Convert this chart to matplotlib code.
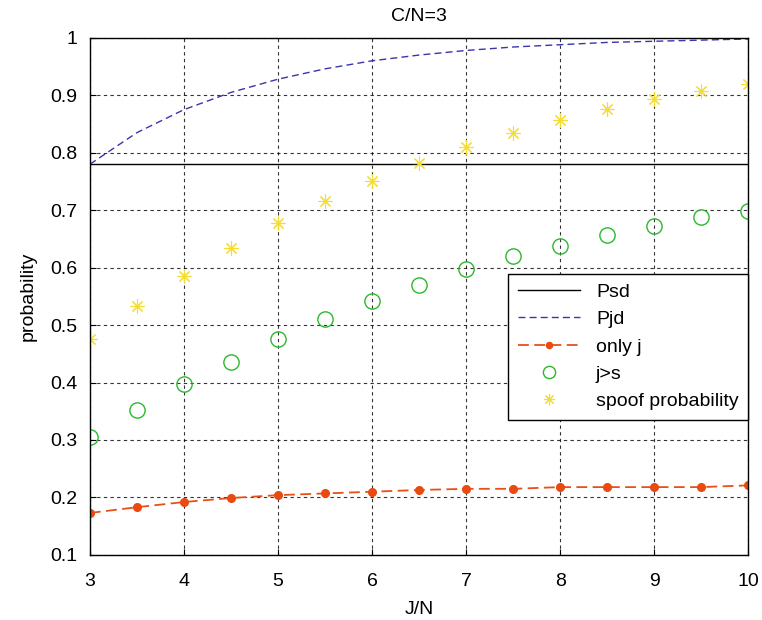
import numpy as np
import matplotlib
matplotlib.use("Agg")
import matplotlib.pyplot as plt

plt.rcParams['font.family'] = ['Liberation Sans', 'DejaVu Sans']

jn = [3, 3.5, 4, 4.5, 5, 5.5, 6, 6.5, 7, 7.5, 8, 8.5, 9, 9.5, 10]
psd = 0.781
pjd = [0.780, 0.835, 0.875, 0.905, 0.928, 0.946, 0.960, 0.970, 0.978,
       0.984, 0.988, 0.992, 0.994, 0.996, 0.998]
only_j = [0.173, 0.183, 0.192, 0.199, 0.204, 0.207, 0.210, 0.213, 0.215,
          0.215, 0.218, 0.218, 0.218, 0.218, 0.221]
j_gt_s = [0.305, 0.352, 0.398, 0.436, 0.476, 0.510, 0.542, 0.570, 0.597,
          0.620, 0.638, 0.656, 0.672, 0.688, 0.698]
spoof = [0.475, 0.533, 0.585, 0.635, 0.678, 0.716, 0.750, 0.782, 0.810,
         0.834, 0.857, 0.876, 0.893, 0.908, 0.920]

fig = plt.figure(figsize=(7.62, 6.2), dpi=100)
ax = fig.add_axes([0.118, 0.105, 0.864, 0.834])

ax.plot([3, 10], [psd, psd], color='black', lw=1, label='Psd')
ax.plot(jn, pjd, color='#3a35a8', lw=1, dashes=(5, 3), label='Pjd')
ax.plot(jn, only_j, color='#e8501a', lw=1.3, dashes=(6, 3), marker='o',
        markersize=5.5, markerfacecolor='#e84a10', markeredgecolor='#e84a10',
        label='only j')
ax.plot(jn, j_gt_s, ls='none', marker='o', markersize=11,
        markerfacecolor='none', markeredgecolor='#2cb82c', markeredgewidth=1,
        label='j>s')
ax.plot(jn, spoof, ls='none', marker=(8, 2, 0), markersize=10,
        color='#f5dc30', markeredgewidth=0.8, label='spoof probability')

ax.set_xlim(3, 10)
ax.set_ylim(0.1, 1)
ax.set_xticks(range(3, 11))
ax.set_yticks(np.arange(0.1, 1.01, 0.1))
ax.set_yticklabels(['0.1', '0.2', '0.3', '0.4', '0.5', '0.6', '0.7', '0.8', '0.9', '1'])
ax.grid(True, color='black', ls=(0, (3, 3)), lw=0.8, alpha=0.8)
ax.tick_params(direction='in', labelsize=14, length=4, pad=9)
ax.tick_params(axis='x', pad=13)
for s in ax.spines.values():
    s.set_linewidth(1)

ax.set_xlabel('J/N', fontsize=14, labelpad=8)
ax.set_ylabel('probability', fontsize=14, labelpad=10)
ax.set_title('C/N=3', fontsize=14, pad=12)

leg = ax.legend(loc='lower right', bbox_to_anchor=(1.0, 0.261), fontsize=14,
                fancybox=False, edgecolor='black', framealpha=1,
                handlelength=3.2, borderpad=0.5, labelspacing=0.5,
                borderaxespad=0, markerscale=0.8)
leg.get_frame().set_linewidth(1)

fig.savefig('out.png', dpi=100)
